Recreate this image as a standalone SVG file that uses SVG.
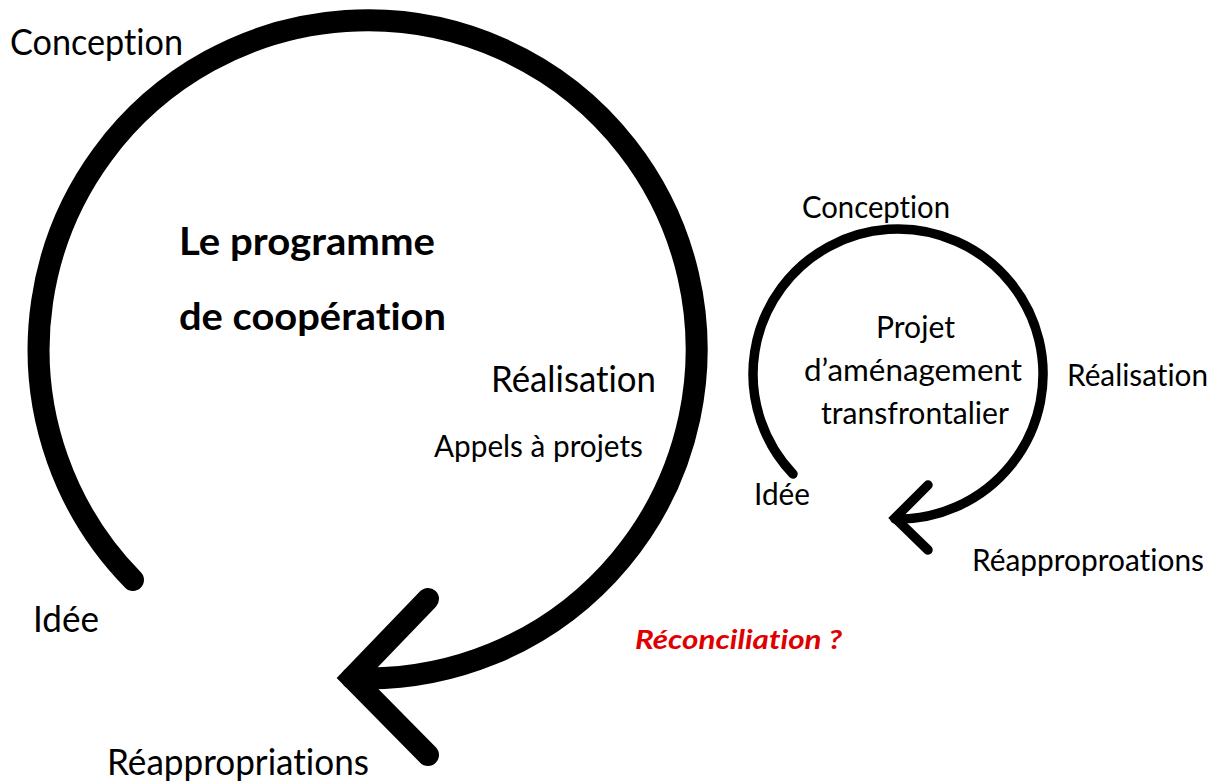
<svg xmlns="http://www.w3.org/2000/svg" width="1220" height="783" viewBox="0 0 1220 783">
<style>
text{font-family:Lato,"Open Sans","Noto Sans",sans-serif;fill:#000;font-variant-ligatures:none;font-feature-settings:"liga" 0,"dlig" 0}
.l{font-size:36px}
.s{font-size:31px}
.b{font-size:38px;font-weight:bold}
.red{font-size:27px;font-weight:bold;font-style:italic;fill:#e00000}
.big{fill:none;stroke:#000;stroke-width:22;stroke-linecap:round;stroke-linejoin:miter}
.sm{fill:none;stroke:#000;stroke-width:9.5;stroke-linecap:round;stroke-linejoin:miter}
</style>
<rect width="1220" height="783" fill="#fff"/>
<g id="connectors">
<path class="big" d="M133,580 A329,329 0 1 1 352,678"/>
<polyline class="big" points="428,599 352,678 428,755"/>
<path class="sm" d="M793,474 A145,145 0 1 1 895,519"/>
<polyline class="sm" points="928,485 895,518 928,550"/>
</g>
<g id="big-cycle">
<text class="l" x="10" y="55" textLength="173" lengthAdjust="spacingAndGlyphs">Conception</text>
<text class="l" x="491" y="392" textLength="165" lengthAdjust="spacingAndGlyphs">Réalisation</text>
<text class="s" x="434" y="457" textLength="209" lengthAdjust="spacingAndGlyphs">Appels à projets</text>
<text class="l" x="33" y="632" textLength="66" lengthAdjust="spacingAndGlyphs">Idée</text>
<text class="l" x="107" y="775" textLength="262" lengthAdjust="spacingAndGlyphs">Réappropriations</text>
</g>
<g id="big-title">
<text class="b" x="179" y="255" textLength="256" lengthAdjust="spacingAndGlyphs">Le programme</text>
<text class="b" x="179" y="330" textLength="267" lengthAdjust="spacingAndGlyphs">de coopération</text>
</g>
<g id="reconciliation">
<text class="red" x="635" y="649" textLength="207" lengthAdjust="spacingAndGlyphs">Réconciliation ?</text>
</g>
<g id="small-cycle">
<text class="s" x="802" y="218" textLength="148" lengthAdjust="spacingAndGlyphs">Conception</text>
<text class="s" x="1067" y="386" textLength="141" lengthAdjust="spacingAndGlyphs">Réalisation</text>
<text class="s" x="754" y="505" textLength="56" lengthAdjust="spacingAndGlyphs">Idée</text>
<text class="s" x="972" y="571" textLength="232" lengthAdjust="spacingAndGlyphs">Réapproproations</text>
</g>
<g id="small-title">
<text class="s" x="876" y="338" textLength="79" lengthAdjust="spacingAndGlyphs">Projet</text>
<text class="s" x="804" y="381" textLength="218" lengthAdjust="spacingAndGlyphs">d’aménagement</text>
<text class="s" x="821" y="424" textLength="188" lengthAdjust="spacingAndGlyphs">transfrontalier</text>
</g>
</svg>
